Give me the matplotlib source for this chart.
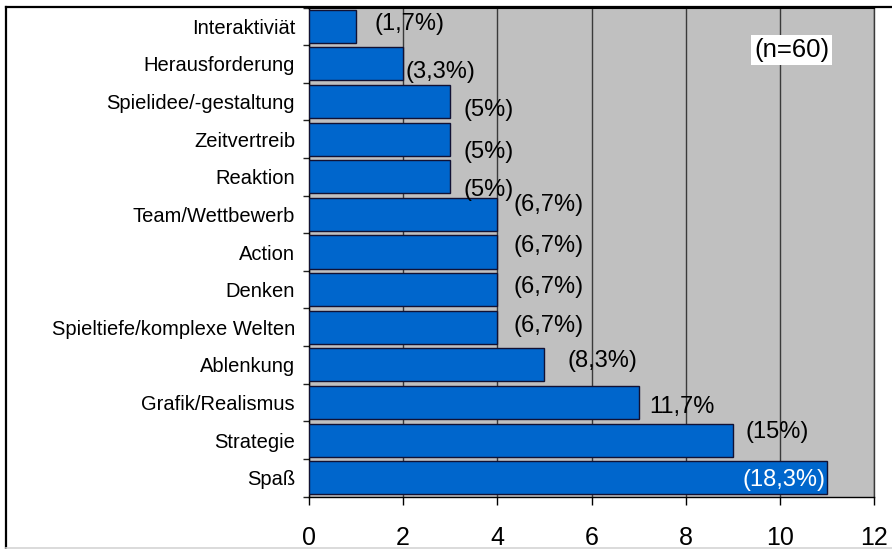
import numpy as np
import matplotlib
matplotlib.use('Agg')
import matplotlib.pyplot as plt
from matplotlib.lines import Line2D

plt.rcParams['font.family'] = ['Liberation Sans', 'DejaVu Sans']

# answers per category (n=60), top to bottom
categories = ['Interaktiviät', 'Herausforderung', 'Spielidee/-gestaltung', 'Zeitvertreib',
              'Reaktion', 'Team/Wettbewerb', 'Action', 'Denken',
              'Spieltiefe/komplexe Welten', 'Ablenkung', 'Grafik/Realismus',
              'Strategie', 'Spaß']
counts = [1, 2, 3, 3, 3, 4, 4, 4, 4, 5, 7, 9, 11]
pct_labels = ['(1,7%)', '(3,3%)', '(5%)', '(5%)', '(5%)', '(6,7%)', '(6,7%)', '(6,7%)',
              '(6,7%)', '(8,3%)', '11,7%', '(15%)', '(18,3%)']
xticks = [0, 2, 4, 6, 8, 10, 12]
note = '(n=60)'

# label offsets from the bar end, in points (dx right, dy up)
label_offsets = [(13, 1.5), (2, -6), (9.5, -6), (9.5, -9), (9.5, -9.5), (11.5, 6.5),
                 (11.5, 4.5), (11.5, 2), (11.5, 0.7), (16.5, 3), (8, -3.3), (9.5, 6),
                 (-0.7, -1.5)]

fig = plt.figure(figsize=(8.92, 5.49), dpi=100)
ax = fig.add_axes([309/892, 1 - 496.5/549, 565/892, 489/549])

y = np.arange(len(categories))
ax.barh(y, counts, height=0.88, color='#0066CC', edgecolor='#111133', linewidth=1, zorder=3)

ax.set_facecolor('#C0C0C0')
ax.set_xlim(0, 12)
ax.set_ylim(len(categories) - 0.5, -0.5)
ax.set_axisbelow(True)
ax.xaxis.grid(True, color='#3a3a3a', linewidth=1)

ax.set_xticks(xticks)
ax.set_xticklabels([str(t) for t in xticks], fontsize=18)
ax.tick_params(axis='x', direction='out', length=6, width=1, pad=15, color='black')

ax.set_yticks(y)
ax.set_yticklabels(categories, fontsize=14.5)
ax.set_yticks(np.arange(len(categories) + 1) - 0.5, minor=True)
ax.tick_params(axis='y', which='major', length=0, pad=10)
ax.tick_params(axis='y', which='minor', direction='out', length=4.5, width=1, color='#222222')

for side in ['left', 'bottom', 'top']:
    ax.spines[side].set_color('black')
    ax.spines[side].set_linewidth(1)
ax.spines['top'].set_linewidth(1.5)
ax.spines['right'].set_color('#3a3a3a')
ax.spines['right'].set_linewidth(1)

for i, (c, lab) in enumerate(zip(counts, pct_labels)):
    dx, dy = label_offsets[i]
    last = i == len(counts) - 1
    ax.annotate(lab, xy=(c, i), xytext=(dx, dy), textcoords='offset points',
                ha='right' if last else 'left', va='center', fontsize=17,
                color='white' if last else 'black', zorder=5)

ax.text(10.25, 0.62, note, fontsize=18.5, ha='center', va='center', zorder=5,
        bbox=dict(boxstyle='square,pad=0.12', facecolor='white', edgecolor='none'))

# frame around the whole chart
x0 = 6/892
ytop = 1 - 7/549
fig.add_artist(Line2D([x0, x0], [0, ytop], transform=fig.transFigure, color='black', linewidth=1.6))
fig.add_artist(Line2D([x0, 1], [ytop, ytop], transform=fig.transFigure, color='black', linewidth=1.6))
fig.add_artist(Line2D([x0, 1], [1.5/549, 1.5/549], transform=fig.transFigure, color='#d4d4d4', linewidth=1.2))

plt.savefig('out.png', dpi=100)
